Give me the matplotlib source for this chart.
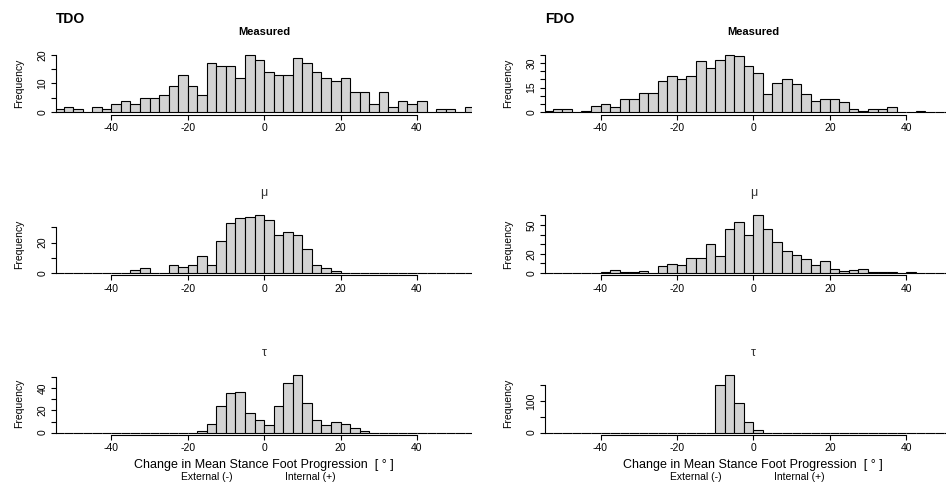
import numpy as np
import matplotlib.pyplot as plt

plt.rcParams['font.family'] = ['Liberation Sans', 'DejaVu Sans']

# histogram bins: 2.5 deg wide, starting at -55
bin_start = -55.0
bin_width = 2.5

tdo_measured = [1, 2, 1, 0, 2, 1, 3, 4, 3, 5, 5, 6, 9, 13, 9, 6, 17, 16, 16, 12, 20, 18,
                14, 13, 13, 19, 17, 14, 12, 11, 12, 7, 7, 3, 7, 2, 4, 3, 4, 0, 1, 1, 0, 2]
fdo_measured = [1, 2, 2, 0, 1, 4, 5, 3, 8, 8, 12, 12, 19, 22, 20, 22, 31, 27, 32, 35, 34, 28,
                24, 11, 18, 20, 17, 11, 7, 8, 8, 6, 2, 1, 2, 2, 3, 0, 0, 1, 0, 0, 0, 0]
tdo_mu = [0, 0, 0, 0, 0, 0, 0, 0, 2, 3, 0, 0, 5, 4, 5, 11, 5, 21, 33, 36, 37, 38,
          35, 25, 27, 25, 16, 5, 3, 1, 0, 0, 0, 0, 0, 0, 0, 0, 0, 0, 0, 0, 0, 0]
fdo_mu = [0, 0, 0, 0, 0, 0, 1, 3, 1, 1, 2, 0, 7, 9, 8, 16, 16, 30, 18, 46, 53, 39,
          60, 46, 32, 23, 19, 14, 8, 12, 4, 2, 3, 4, 1, 1, 1, 0, 1, 0, 0, 0, 0, 0]
tdo_tau = [0, 0, 0, 0, 0, 0, 0, 0, 0, 0, 0, 0, 0, 0, 0, 1, 8, 24, 36, 37, 18, 11,
           7, 24, 45, 52, 27, 11, 7, 10, 8, 4, 1, 0, 0, 0, 0, 0, 0, 0, 0, 0, 0, 0]
fdo_tau = [0, 0, 0, 0, 0, 0, 0, 0, 0, 0, 0, 0, 0, 0, 0, 0, 0, 0, 151, 182, 95, 33,
           8, 0, 0, 0, 0, 0, 0, 0, 0, 0, 0, 0, 0, 0, 0, 0, 0, 0, 0, 0, 0, 0]

# y ticks and which of them get a label (R drops overlapping labels)
yticks_tdo_measured = [0, 5, 10, 15, 20]
ylabels_tdo_measured = ['0', '', '10', '', '20']
yticks_fdo_measured = [0, 5, 10, 15, 20, 25, 30, 35]
ylabels_fdo_measured = ['0', '', '', '15', '', '', '30', '']
yticks_tdo_mu = [0, 10, 20, 30]
ylabels_tdo_mu = ['0', '', '20', '']
yticks_fdo_mu = [0, 10, 20, 30, 40, 50, 60]
ylabels_fdo_mu = ['0', '', '20', '', '', '50', '']
yticks_tdo_tau = [0, 10, 20, 30, 40, 50]
ylabels_tdo_tau = ['0', '', '20', '', '40', '']
yticks_fdo_tau = [0, 50, 100, 150]
ylabels_fdo_tau = ['0', '', '100', '']

xticks = [-40, -20, 0, 20, 40]
group_names = ['TDO', 'FDO']
panel_titles = ['Measured', '\u03bc', '\u03c4']
xlabel_text = 'Change in Mean Stance Foot Progression  [ \u00b0 ]'

W, H = 946, 484
fig = plt.figure(figsize=(W / 100, H / 100), dpi=100, facecolor='white')

col_left = [55.9, 545.1]
col_width = 416.5
row_top = [52.4, 213.0, 372.7]
row_height = 62.2
x_half = 54.5

panels = [
    [(tdo_measured, yticks_tdo_measured, ylabels_tdo_measured),
     (tdo_mu, yticks_tdo_mu, ylabels_tdo_mu),
     (tdo_tau, yticks_tdo_tau, ylabels_tdo_tau)],
    [(fdo_measured, yticks_fdo_measured, ylabels_fdo_measured),
     (fdo_mu, yticks_fdo_mu, ylabels_fdo_mu),
     (fdo_tau, yticks_fdo_tau, ylabels_fdo_tau)],
]

tick_fs = 7.5


def to_fig(x, y):
    return x / W, 1 - y / H


for c in range(2):
    x0 = col_left[c]
    x_center = x0 + col_width / 2
    px_per_unit = col_width / (2 * x_half)
    for r in range(3):
        counts, yticks, ylabels = panels[c][r]
        counts = np.asarray(counts)
        top = row_top[r]
        ax = fig.add_axes([x0 / W, 1 - (top + row_height) / H, col_width / W, row_height / H])
        ax.patch.set_alpha(0)
        lefts = bin_start + bin_width * np.arange(len(counts))
        ax.bar(lefts, counts, width=bin_width, align='edge', color='#d3d3d3',
               edgecolor='black', linewidth=0.8)
        ymax = counts.max()
        ax.set_xlim(-x_half, x_half)
        ax.set_ylim(-0.04 * ymax, 1.04 * ymax)

        for side in ['top', 'right']:
            ax.spines[side].set_visible(False)
        ax.spines['bottom'].set_bounds(xticks[0], xticks[-1])
        ax.spines['left'].set_bounds(yticks[0], yticks[-1])
        for side in ['bottom', 'left']:
            ax.spines[side].set_linewidth(0.8)

        ax.set_xticks(xticks)
        ax.set_xticklabels([str(t) for t in xticks], fontsize=tick_fs)
        ax.set_yticks(yticks)
        ax.set_yticklabels(ylabels, fontsize=tick_fs, rotation=90, va='center')
        ax.tick_params(axis='both', direction='out', length=3.6, width=0.8, pad=2.5)

        # panel title
        fig.text(*to_fig(x_center, top - 20), panel_titles[r], ha='center', va='center',
                 fontsize=8 if r == 0 else 9, fontweight='bold' if r == 0 else 'normal',
                 color='black' if r == 0 else '#333333')
        # y label
        fig.text(*to_fig(x0 - 37, top + row_height / 2), 'Frequency', rotation=90,
                 ha='center', va='center', fontsize=7.5)

    # group label
    fig.text(*to_fig(x0, 19), group_names[c], ha='left', va='center',
             fontsize=10, fontweight='bold')
    # x axis label for the bottom panel
    fig.text(*to_fig(x_center, 465), xlabel_text, ha='center', va='center', fontsize=9)
    fig.text(*to_fig(x_center - 15 * px_per_unit, 477), 'External (-)',
             ha='center', va='center', fontsize=7.5)
    fig.text(*to_fig(x_center + 12 * px_per_unit, 477), 'Internal (+)',
             ha='center', va='center', fontsize=7.5)

fig.savefig('out.png', dpi=100, facecolor='white')
